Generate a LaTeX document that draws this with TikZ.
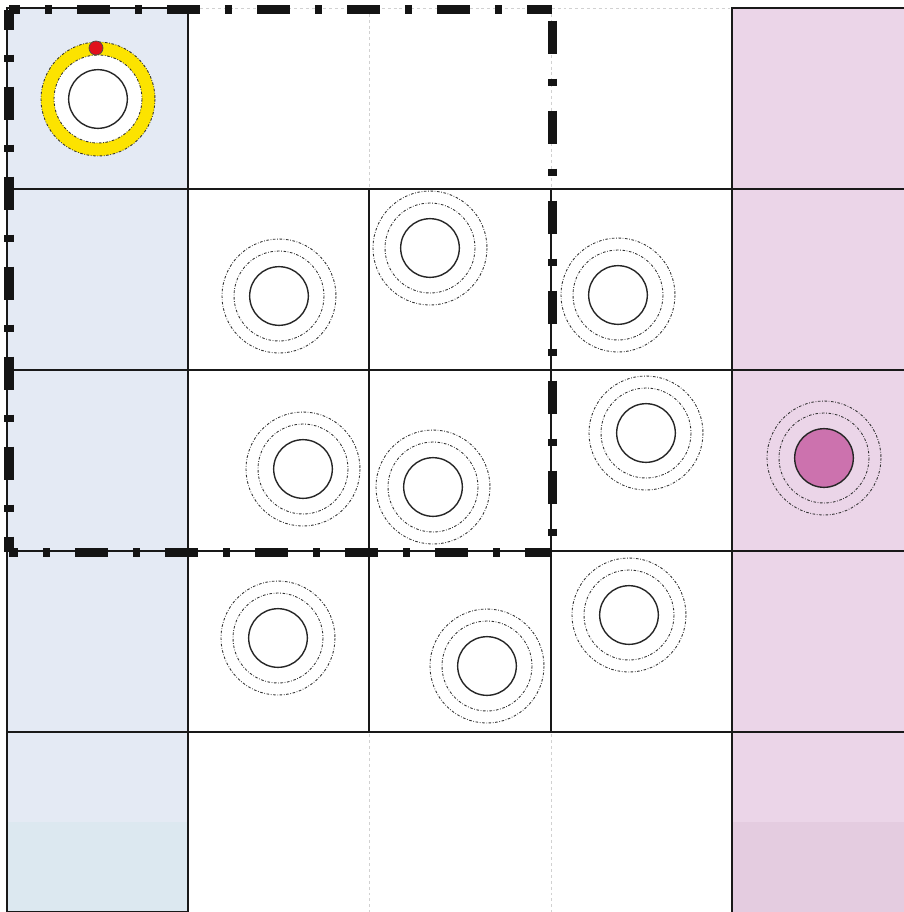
\documentclass[tikz,border=0pt]{standalone}
\usepackage{tikz}
\usetikzlibrary{positioning}
\definecolor{colleft}{HTML}{E4EAF4}
\definecolor{colleftlow}{HTML}{DCE8F0}
\definecolor{colright}{HTML}{EBD5E8}
\definecolor{colrightlow}{HTML}{E4CCE0}
\definecolor{ringyellow}{HTML}{FCE300}
\definecolor{pinred}{HTML}{E0111C}
\definecolor{sitepink}{HTML}{CC72AE}

\begin{document}
\begin{tikzpicture}[x=0.03cm,y=-0.03cm,
  gridline/.style={draw=black!18,line width=0.8pt,dash pattern=on 2.5pt off 2.5pt},
  wall/.style={draw=black!90,line width=2pt},
  zone/.style={draw=black!92,line width=0.27cm,dash pattern=on 0.99cm off 0.75cm on 0.21cm off 0.75cm},
  site/.style={circle,draw=black!85,line width=1.2pt,fill=white,minimum size=1.76cm,inner sep=0pt},
  halo/.style={draw=black!80,line width=0.75pt,dash pattern=on 2.2pt off 1.4pt on 0.6pt off 1.4pt}]
\useasboundingbox (0,0) rectangle (904,912);
\fill[colleft] (7,8) rectangle (188,822);
\fill[colleftlow] (7,822) rectangle (188,912);
\fill[colright] (732,8) rectangle (904,822);
\fill[colrightlow] (732,822) rectangle (904,912);
\draw[gridline] (7,8) -- (904,8);
\draw[gridline] (7,912) -- (904,912);
\draw[gridline] (369,8) -- (369,912);
\draw[gridline] (551,8) -- (551,912);
\draw[wall] (7,8) rectangle (188,912);
\draw[wall] (732,912) -- (732,8) -- (910,8);
\draw[wall] (7,189) -- (904,189);
\draw[wall] (7,370) -- (904,370);
\draw[wall] (7,551) -- (904,551);
\draw[wall] (7,732) -- (904,732);
\draw[wall] (369,189) -- (369,732);
\draw[wall] (551,189) -- (551,732);
\draw[zone,dash phase=0.66cm] (9,9.5) -- (552,9.5);
\draw[zone,dash phase=2.37cm] (552,9.5) -- (552,552);
\draw[zone,dash phase=0.72cm] (9,552) -- (552,552);
\draw[zone,dash phase=0.39cm] (9,9.5) -- (9,552);
\coordinate (hub) at (98,99);
\fill[white] (hub) circle[radius=44];
\fill[ringyellow,even odd rule] (hub) circle[radius=57] (hub) circle[radius=44];
\node[site] (s0) at (hub) {};
\node[site] (s1) at (279,296) {};
\node[site] (s2) at (430,248) {};
\node[site] (s3) at (618,295) {};
\node[site] (s4) at (303,469) {};
\node[site] (s5) at (433,487) {};
\node[site] (s6) at (646,433) {};
\node[site,fill=sitepink] (s7) at (824,458) {};
\node[site] (s8) at (278,638) {};
\node[site] (s9) at (487,666) {};
\node[site] (s10) at (629,615) {};
\draw[halo] (s0.center) circle[radius=44] (s0.center) circle[radius=57];
\draw[halo] (s1.center) circle[radius=45] (s1.center) circle[radius=57];
\draw[halo] (s2.center) circle[radius=45] (s2.center) circle[radius=57];
\draw[halo] (s3.center) circle[radius=45] (s3.center) circle[radius=57];
\draw[halo] (s4.center) circle[radius=45] (s4.center) circle[radius=57];
\draw[halo] (s5.center) circle[radius=45] (s5.center) circle[radius=57];
\draw[halo] (s6.center) circle[radius=45] (s6.center) circle[radius=57];
\draw[halo] (s7.center) circle[radius=45] (s7.center) circle[radius=57];
\draw[halo] (s8.center) circle[radius=45] (s8.center) circle[radius=57];
\draw[halo] (s9.center) circle[radius=45] (s9.center) circle[radius=57];
\draw[halo] (s10.center) circle[radius=45] (s10.center) circle[radius=57];
\node[circle,draw=black!70,line width=0.6pt,fill=pinred,minimum size=0.42cm,inner sep=0pt] (pin) at (96,48) {};
\end{tikzpicture}
\end{document}
